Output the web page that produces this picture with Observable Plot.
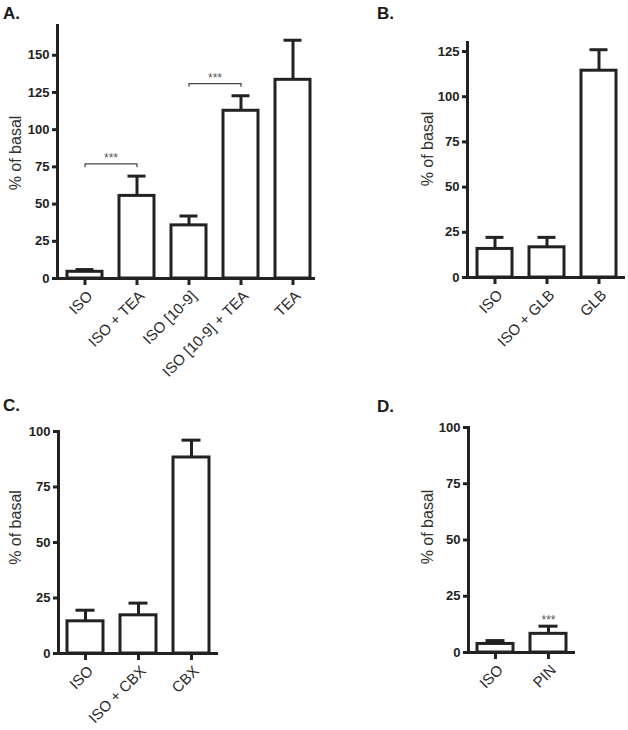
<!DOCTYPE html>
<html><head><meta charset="utf-8">
<script src="https://cdn.jsdelivr.net/npm/d3@7"></script>
<script src="https://cdn.jsdelivr.net/npm/@observablehq/plot@0.6"></script>
<style>
body{margin:0;background:#fff;font-family:"Liberation Sans",Arial,sans-serif;color:#222}
#root{position:relative;width:628px;height:730px;overflow:hidden;background:#fff}
.panel{position:absolute}
.letter{position:absolute;font-weight:bold;font-size:17px;line-height:1;color:#1a1a1a}
</style></head><body><div id="root"></div>
<script>
// ---- data ----
const yLabel = "% of basal";

const catsA = ["ISO", "ISO + TEA", "ISO [10-9]", "ISO [10-9] + TEA", "TEA"];
const meanA = [4.5, 55.5, 35.7, 112.7, 133.5];
const semA  = [1.5, 13.3, 6.3, 10.1, 26.6];
const ticksA = [0, 25, 50, 75, 100, 125, 150];
const domainA = [0, 170];
const bracketsA = [
  {from: "ISO", to: "ISO + TEA", y: 77, text: "***"},
  {from: "ISO [10-9]", to: "ISO [10-9] + TEA", y: 131, text: "***"}
];

const catsB = ["ISO", "ISO + GLB", "GLB"];
const meanB = [15.8, 16.7, 114.4];
const semB  = [6.4, 5.5, 11.6];
const ticksB = [0, 25, 50, 75, 100, 125];
const domainB = [0, 130];

const catsC = ["ISO", "ISO + CBX", "CBX"];
const meanC = [14.5, 17.2, 88.3];
const semC  = [5.0, 5.5, 7.8];
const ticksC = [0, 25, 50, 75, 100];
const domainC = [0, 100];

const catsD = ["ISO", "PIN"];
const meanD = [3.8, 8.3];
const semD  = [1.5, 3.4];
const ticksD = [0, 25, 50, 75, 100];
const domainD = [0, 100];
const starsD = [{cat: "PIN", y: 12.5, text: "***"}];

// ---- drawing ----
const INK = "#222";
const root = document.getElementById("root");

function panel(cfg) {
  const rows = cfg.cats.map((c, i) => ({cat: c, mean: cfg.means[i], upper: cfg.means[i] + cfg.sems[i]}));
  const svg = Plot.plot({
    width: cfg.width, height: cfg.height,
    marginLeft: cfg.mL, marginRight: cfg.mR, marginTop: cfg.mT, marginBottom: cfg.mB,
    style: {fontFamily: '"Liberation Sans", Arial, sans-serif', color: INK, background: "transparent", overflow: "visible"},
    x: {domain: cfg.cats, paddingInner: 0.33, paddingOuter: cfg.po, ...(cfg.xRange ? {range: cfg.xRange} : {})},
    y: {domain: cfg.domain},
    marks: [
      Plot.ruleX(rows, {x: "cat", y1: "mean", y2: "upper", stroke: INK, strokeWidth: 3}),
      Plot.tickY(rows, {x: "cat", y: "upper", stroke: INK, strokeWidth: 3, insetLeft: 8.5, insetRight: 8.5}),
      Plot.barY(rows, {x: "cat", y: "mean", fill: "white", stroke: INK, strokeWidth: 3}),
      Plot.ruleY([0], {stroke: INK, strokeWidth: 3}),
      Plot.frame({anchor: "left", stroke: INK, strokeWidth: 3}),
      Plot.axisY({ticks: cfg.ticks, tickSize: 5, strokeWidth: 3, tickPadding: 3, fontSize: 13, fontWeight: "bold", label: null}),
      Plot.axisX({tickSize: 7, strokeWidth: 3, tickFormat: () => "", label: null}),
      Plot.axisX({tickSize: 0, tickRotate: -45, tickPadding: 10, dx: 5, dy: 5, fontSize: 15, fill: "#2a2a2a", label: null}),
      Plot.text([yLabel], {text: d => d, frameAnchor: "left", rotate: -90, dx: cfg.labelDx, dy: cfg.labelDy, fontSize: 16, textAnchor: "middle", lineAnchor: "middle", fill: "#333"}),
      ...(cfg.extras || [])
    ]
  });
  const div = document.createElement("div");
  div.className = "panel";
  div.style.left = cfg.left + "px";
  div.style.top = cfg.top + "px";
  div.appendChild(svg);
  root.appendChild(div);
}

function letter(t, left, top) {
  const d = document.createElement("div");
  d.className = "letter";
  d.textContent = t;
  d.style.left = left + "px";
  d.style.top = top + "px";
  root.appendChild(d);
}

panel({
  cats: catsA, means: meanA, sems: semA, ticks: ticksA, domain: domainA,
  left: 0, top: 0, width: 320, height: 380, mL: 57, mR: 5, mT: 25, mB: 102,
  xRange: [57, 319], po: 0.15, labelDx: -42, labelDy: 1,
  extras: [
    Plot.link(bracketsA, {x1: "from", x2: "to", y1: "y", y2: "y", stroke: "#444", strokeWidth: 1.2}),
    Plot.ruleX(bracketsA, {x: "from", y1: "y", y2: d => d.y - 2.5, stroke: "#444", strokeWidth: 1.2}),
    Plot.ruleX(bracketsA, {x: "to", y1: "y", y2: d => d.y - 2.5, stroke: "#444", strokeWidth: 1.2}),
    Plot.text(bracketsA, {x: "from", y: "y", text: "text", dx: 26, dy: -2, lineAnchor: "bottom", fontSize: 12, fill: "#555"})
  ]
});
panel({
  cats: catsB, means: meanB, sems: semB, ticks: ticksB, domain: domainB,
  left: 380, top: 0, width: 248, height: 380, mL: 87, mR: 3, mT: 42, mB: 103,
  po: 0.18, labelDx: -40, labelDy: -11
});
panel({
  cats: catsC, means: meanC, sems: semC, ticks: ticksC, domain: domainC,
  left: 0, top: 360, width: 230, height: 370, mL: 58, mR: 12, mT: 71, mB: 77,
  po: 0.17, labelDx: -43, labelDy: -15
});
panel({
  cats: catsD, means: meanD, sems: semD, ticks: ticksD, domain: domainD,
  left: 380, top: 360, width: 248, height: 370, mL: 88, mR: 53, mT: 67, mB: 78,
  po: 0.17, labelDx: -41, labelDy: -13,
  extras: [
    Plot.text(starsD, {x: "cat", y: "y", text: "text", lineAnchor: "bottom", fontSize: 12, fill: "#555"})
  ]
});

letter("A.", 3, 5);
letter("B.", 377, 5);
letter("C.", 3, 397);
letter("D.", 377, 398);
</script>
</body></html>
